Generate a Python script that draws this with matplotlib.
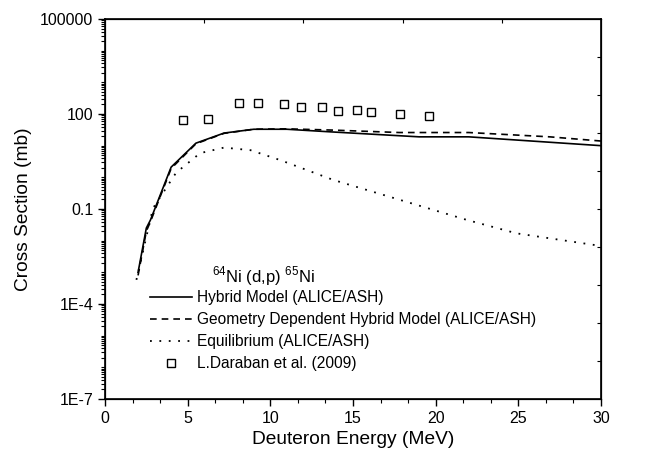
import matplotlib
matplotlib.use("Agg")
import matplotlib.pyplot as plt
import numpy as np
from matplotlib.ticker import LogLocator, FixedLocator, NullFormatter, MultipleLocator

plt.rcParams['font.family'] = ['Liberation Sans', 'DejaVu Sans']
plt.rcParams['mathtext.fontset'] = 'custom'
plt.rcParams['mathtext.rm'] = 'Liberation Sans'

# hybrid model (ALICE/ASH)
e_hyb = [2.0, 2.5, 2.75, 4.0, 5.5, 7.2, 9.0, 11.0, 13.8, 19.0, 22.0, 30.0]
xs_hyb = [1.0e-3, 0.025, 0.045, 2.1, 12.0, 25.0, 33.0, 33.0, 27.0, 19.0, 19.0, 10.0]

# geometry dependent hybrid model (ALICE/ASH)
e_gdh = [2.0, 2.5, 2.75, 4.0, 5.5, 7.2, 9.0, 11.0, 13.8, 17.8, 22.0, 26.9, 30.0]
xs_gdh = [8.0e-4, 0.02, 0.04, 1.9, 11.5, 24.5, 33.0, 34.0, 31.0, 26.0, 26.0, 19.0, 14.0]

# equilibrium (ALICE/ASH)
e_eq = [1.9, 2.9, 4.3, 5.75, 7.2, 8.8, 10.6, 13.8, 17.9, 21.9, 24.9, 30.0]
xs_eq = [5.8e-4, 0.105, 1.4, 5.8, 8.7, 7.2, 3.5, 0.83, 0.19, 0.045, 0.017, 0.0068]

# L.Daraban et al. (2009)
e_exp = [4.74, 6.25, 8.12, 9.24, 10.83, 11.84, 13.15, 14.08, 15.25, 16.07, 17.85, 19.62]
xs_exp = [65.0, 69.0, 229.0, 219.0, 209.0, 170.0, 162.0, 126.0, 135.0, 117.0, 100.0, 87.0]

fig = plt.figure(figsize=(6.46, 4.59), dpi=100)
ax = fig.add_axes([105/646, 1-399/459, 496/646, 380/459])

l1, = ax.plot(e_hyb, xs_hyb, color='black', lw=1.2, ls='-')
l2, = ax.plot(e_gdh, xs_gdh, color='black', lw=1.2, ls=(0, (4, 3)))
l3, = ax.plot(e_eq, xs_eq, color='black', lw=1.3, ls=(0, (1, 4.2)))
l4, = ax.plot(e_exp, xs_exp, ls='none', marker='s', ms=6, mfc='white', mec='black', mew=1.0)

ax.set_yscale('log')
ax.set_xlim(0, 30)
ax.set_ylim(1e-7, 1e5)
ax.set_yticks([1e-7, 1e-4, 0.1, 100, 1e5])
ax.set_yticklabels(['1E-7', '1E-4', '0.1', '100', '100000'])
ax.yaxis.set_minor_locator(LogLocator(base=10, subs=np.arange(1, 10), numticks=100))
ax.yaxis.set_minor_formatter(NullFormatter())
ax.xaxis.set_major_locator(MultipleLocator(5))
ax.xaxis.set_minor_locator(MultipleLocator(5/3))
ax.tick_params(which='major', direction='out', length=5, width=1, labelsize=11.5)
ax.tick_params(which='minor', direction='out', length=3, width=0.8)
for s in ax.spines.values():
    s.set_linewidth(1.2)

ax.set_xlabel('Deuteron Energy (MeV)', fontsize=13.8, labelpad=4)
ax.set_ylabel('Cross Section (mb)', fontsize=13.8, labelpad=6)

# right / top frame ticks
axr = ax.twinx()
axr.set_ylim(0, 10)
axr.yaxis.set_major_locator(FixedLocator(range(1, 10)))
axr.tick_params(axis='y', direction='in', length=3, labelright=False)
axt = ax.twiny()
axt.set_xlim(0, 30)
axt.xaxis.set_major_locator(FixedLocator([6, 12, 18, 24]))
axt.tick_params(axis='x', direction='in', length=3, labeltop=False)

ax.text((212-105)/496, 1-(276-19)/380, r'$^{64}$Ni (d,p) $^{65}$Ni', transform=ax.transAxes,
        ha='left', va='center', fontsize=12)

ax.legend([l1, l2, l3, l4],
          ['Hybrid Model (ALICE/ASH)', 'Geometry Dependent Hybrid Model (ALICE/ASH)',
           'Equilibrium (ALICE/ASH)', 'L.Daraban et al. (2009)'],
          loc='upper left', bbox_to_anchor=((150-105)/496, 1-(290-19)/380),
          frameon=False, fontsize=11.2, handlelength=2.7, handletextpad=0.3,
          labelspacing=0.46, borderpad=0, borderaxespad=0)

fig.savefig('out.png', dpi=100)
